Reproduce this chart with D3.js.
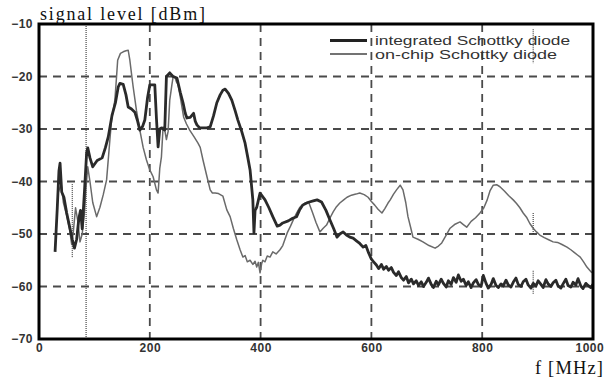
<!DOCTYPE html>
<html><head><meta charset="utf-8">
<script src="https://cdn.jsdelivr.net/npm/d3@7"></script>
<style>html,body{margin:0;padding:0;background:#fff;overflow:hidden;}svg{display:block;}</style>
</head><body>
<svg id="c" width="607" height="378"></svg>
<script>
// ---- data ----
const xTicks = [0, 200, 400, 600, 800, 1000];
const yTicks = [-10, -20, -30, -40, -50, -60, -70];
const seriesNames = ["integrated Schottky diode", "on-chip Schottky diode"];

const integratedF = [29,33,36,38,41,45,50,55,60,64,68,72,75,78,82,86,88,92,97,105,114,120,125,132,138,143,146,152,157,161,167,173,178,182,187,191,196,200,209,212,215,218,221,227,230,236,242,249,255,260,264,267,273,279,282,285,290,296,303,309,315,321,327,332,336,342,348,354,359,366,372,377,381,386,388,390,393,399,408,415,422,430,435,440,450,458,465,470,476,485,495,502,510,518,525,532,538,543,549,555,561,567,573,579,585,590,595,600,604,609,613,618,622,627,631,636,640,645,649,654,658,663,667,672,676,681,685,690,694,699,703,708,712,717,721,726,730,735,739,744,748,753,757,762,766,771,775,780,784,789,793,798,802,807,811,816,820,825,829,834,838,843,847,852,856,861,865,870,874,879,883,888,892,897,901,906,910,915,919,924,928,933,937,942,946,951,955,960,964,969,973,978,982,987,991,996,1000];
const integratedDb = [-53.4,-45,-38,-36.5,-42,-43,-46,-48.5,-51,-52.7,-51,-47,-45.5,-49,-42,-34.5,-33.6,-35.5,-37.2,-36,-35.5,-33.5,-31.5,-27.3,-25,-22,-21.3,-21.5,-23.5,-25.8,-26.2,-26.8,-28.5,-30.2,-29.5,-28.3,-24,-21.6,-21.6,-28,-33.4,-30,-29.8,-30.2,-20,-19.3,-20,-20.3,-23,-25,-27,-27.9,-27.8,-27,-28.5,-29.2,-29.8,-29.8,-29.8,-29.6,-27.5,-25,-23.5,-22.6,-22.4,-23.2,-24.5,-26.5,-28.3,-30.5,-32.7,-35.5,-37.8,-43.5,-49.8,-45.5,-44.9,-42.2,-43.5,-45,-46.7,-48.5,-48.3,-47.9,-47.5,-47,-46.7,-45.5,-44.5,-44,-43.7,-43.5,-43.9,-45.5,-47.3,-49,-50.6,-50,-49.6,-50.2,-50.6,-50.8,-51.3,-51.8,-52.5,-52.2,-53.6,-54.8,-55.3,-55.9,-56.6,-55.8,-56.7,-56.2,-56.9,-56.4,-57.3,-57.9,-57.2,-58.3,-58.8,-58.1,-59.3,-58.6,-59.5,-58.9,-59.8,-59.1,-60.0,-59.2,-58.4,-59.6,-60.2,-59.0,-59.7,-58.6,-59.4,-60.1,-58.9,-59.6,-58.3,-59.2,-57.8,-59.0,-58.6,-59.8,-59.1,-60.2,-59.3,-58.7,-59.6,-60.0,-57.9,-59.4,-60.3,-59.6,-58.5,-59.8,-60.2,-59.5,-59.9,-58.8,-59.7,-60.1,-59.2,-58.4,-59.6,-60.0,-59.1,-58.6,-59.7,-60.3,-59.4,-59.9,-58.9,-59.6,-60.2,-58.7,-59.5,-60.0,-59.3,-58.8,-59.9,-60.3,-59.5,-58.6,-59.8,-60.1,-59.2,-59.7,-58.5,-59.9,-60.4,-59.4,-59.8,-60.2,-59.6];

const onchipF = [35,40,44,50,55,59,62,66,70,74,78,82,85,88,92,97,104,110,116,122,128,131,137,140,142,147,152,157,161,164,167,170,176,182,188,194,200,206,212,215,218,221,224,227,230,233,236,240,242,245,248,251,256,261,266,272,280,287,291,296,303,309,313,318,324,332,339,345,351,357,363,368,372,376,381,386,390,393,396,399,402,404,408,412,417,422,428,435,440,448,454,459,465,471,476,480,487,494,500,507,513,519,525,531,537,543,550,556,564,572,579,587,594,600,606,612,619,624,630,634,640,646,652,657,662,666,671,675,684,693,704,715,721,727,735,742,750,760,766,772,780,788,796,803,809,814,820,826,832,840,848,856,862,868,874,880,886,892,898,904,912,920,928,936,944,953,960,966,972,977,983,989,994,998];
const onchipDb = [-42,-40.5,-44,-46.5,-49,-52,-49.5,-45,-47.5,-51.5,-50,-46,-41,-37.2,-40,-44,-46.7,-44.9,-42.5,-39.7,-32,-28.3,-24.5,-20,-16.9,-15.6,-15.3,-15.1,-15,-16.9,-19.5,-22,-26.5,-30.2,-33.5,-35.9,-37.8,-39.1,-41.6,-42.2,-37.5,-35.3,-29.6,-30.2,-32,-30.5,-24.5,-21.5,-20.1,-20,-21,-21.5,-24.5,-27.7,-29,-30.2,-31.5,-32.7,-33.5,-35.9,-39,-41.6,-42.2,-42.2,-42.3,-42.8,-45.4,-46.7,-49,-51.1,-53,-54.4,-54.1,-55.3,-55,-55.8,-55.2,-56.3,-55.4,-57.4,-55.6,-55,-55.3,-54.2,-54.4,-53.4,-53.8,-53,-52.2,-49.8,-48.5,-47.3,-46,-44.9,-44.4,-44.1,-44,-46,-47.8,-49.6,-48.9,-48.3,-47,-45.8,-44.8,-44.1,-43.5,-43,-42.6,-42.4,-42.2,-42.5,-43,-43.8,-44.5,-45.3,-46,-45.2,-44.1,-43.5,-42.4,-41.5,-40.7,-41.6,-44,-46.7,-48.8,-50.6,-51,-51.5,-52.2,-52.7,-52.3,-51.7,-50.2,-48.9,-48.2,-47.7,-48.2,-48.7,-47.6,-46.9,-46,-45,-43.5,-41.8,-40.7,-40.6,-41,-41.8,-42.7,-43.5,-44.2,-45,-46,-46.8,-48,-48.9,-49.6,-50.2,-50.7,-51.1,-51.5,-51.6,-52,-52.5,-53,-53.5,-54,-54.4,-55.3,-56.3,-56.9,-57.4];

// ---- layout ----
const L = 39, R = 593, T = 24, B = 339;
const svg = d3.select("#c");
const x = d3.scaleLinear().domain([0, 1000]).range([L, R]);
const y = d3.scaleLinear().domain([-70, -10]).range([B, T]);

// grid
const grid = svg.append("g").attr("stroke", "#4a4a4a").attr("stroke-width", 1.8).attr("stroke-dasharray", "8,6");
grid.selectAll("line.v").data(xTicks.filter(d => d > 0 && d < 1000)).join("line")
  .attr("x1", d => x(d)).attr("x2", d => x(d)).attr("y1", T).attr("y2", B);
grid.selectAll("line.h").data(yTicks.filter(d => d > -70 && d < -10)).join("line")
  .attr("class", "h").attr("x1", L).attr("x2", R).attr("y1", d => y(d)).attr("y2", d => y(d));

// dotted artefact lines
const dots = svg.append("g").attr("stroke", "#222").attr("stroke-width", 1).attr("stroke-dasharray", "1,1");
dots.append("line").attr("x1", x(85)).attr("x2", x(85)).attr("y1", T).attr("y2", B);
dots.append("line").attr("x1", x(60)).attr("x2", x(60)).attr("y1", y(-40.5)).attr("y2", y(-54.5));
dots.append("line").attr("x1", x(892)).attr("x2", x(892)).attr("y1", y(-11)).attr("y2", y(-17.5));
dots.append("line").attr("x1", x(892)).attr("x2", x(892)).attr("y1", y(-46)).attr("y2", y(-50));
dots.append("line").attr("x1", x(892)).attr("x2", x(892)).attr("y1", y(-57)).attr("y2", y(-61.5));

// curves
const line = d3.line().x(d => x(d[0])).y(d => y(d[1]));
const onchip = onchipF.map((f, i) => [f, onchipDb[i]]);
const integrated = integratedF.map((f, i) => [f, integratedDb[i]]);
svg.append("path").datum(onchip).attr("d", line).attr("fill", "none")
  .attr("stroke", "#6a6a6a").attr("stroke-width", 1.5).attr("stroke-linejoin", "round");
svg.append("path").datum(integrated).attr("d", line).attr("fill", "none")
  .attr("stroke", "#2a2a2a").attr("stroke-width", 2.8).attr("stroke-linejoin", "round");

// frame
svg.append("rect").attr("x", L).attr("y", T).attr("width", R - L).attr("height", B - T)
  .attr("fill", "none").attr("stroke", "#000").attr("stroke-width", 3);

// axis labels via d3 axes
const yAxis = svg.append("g").attr("transform", `translate(${L},0)`)
  .call(d3.axisLeft(y).tickValues(yTicks).tickSize(0).tickPadding(6).tickFormat(d3.format("d")));
const xAxis = svg.append("g").attr("transform", `translate(0,${B})`)
  .call(d3.axisBottom(x).tickValues(xTicks).tickSize(0).tickPadding(4).tickFormat(d3.format("d")));
[yAxis, xAxis].forEach(a => {
  a.select(".domain").remove();
  a.selectAll("text").attr("font-family", "Liberation Sans, Arial, sans-serif")
    .attr("font-size", 12).attr("fill", "#333").attr("font-weight", "bold").attr("letter-spacing", "0.5px");
});
xAxis.selectAll("text").filter(d => d === 1000).attr("text-anchor", "start").attr("dx", -18);

// titles
svg.append("text").attr("x", 40).attr("y", 20).text("signal level [dBm]")
  .attr("font-family", "Liberation Serif, Times New Roman, serif").attr("font-size", 18)
  .attr("textLength", 165).attr("fill", "#111");
svg.append("text").attr("x", 535).attr("y", 374).text("f [MHz]")
  .attr("font-family", "Liberation Serif, Times New Roman, serif").attr("font-size", 18.5)
  .attr("textLength", 68).attr("fill", "#111");

// legend
const lg = svg.append("g");
const legY = [40.5, 54];
lg.selectAll("line").data(seriesNames).join("line")
  .attr("x1", 330).attr("x2", 367).attr("y1", (d, i) => legY[i]).attr("y2", (d, i) => legY[i])
  .attr("stroke", (d, i) => i ? "#444" : "#222").attr("stroke-width", (d, i) => i ? 1.4 : 3);
lg.selectAll("text").data(seriesNames).join("text")
  .attr("x", 375).attr("y", (d, i) => legY[i] + 4.5).text(d => d)
  .attr("font-family", "Liberation Sans, Arial, sans-serif").attr("font-size", 13)
  .attr("fill", "#333").attr("textLength", (d, i) => i ? 182 : 195).attr("lengthAdjust", "spacingAndGlyphs");
</script>
</body></html>
